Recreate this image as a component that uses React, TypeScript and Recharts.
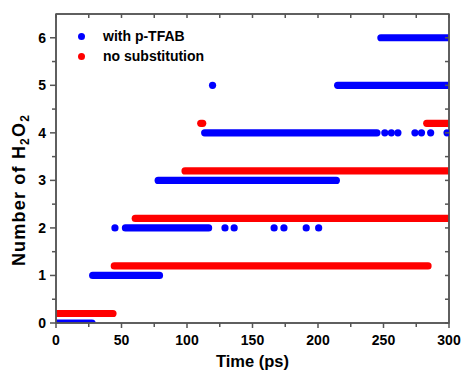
import React from 'react';
import { ComposedChart, Line, Scatter, XAxis, YAxis, Legend } from 'recharts';

// Time axis ticks (ps): labelled every 50, minor every 25
const timeTicks = [0, 25, 50, 75, 100, 125, 150, 175, 200, 225, 250, 275, 300];
// Count axis ticks: labelled every 1, minor every 0.5
const countTicks = [0, 0.5, 1, 1.5, 2, 2.5, 3, 3.5, 4, 4.5, 5, 5.5, 6];
const timeDomain = [0, 300];
const countDomain = [0, 6.5];

// "with p-TFAB": continuous plateaus (level n from time..to time)
const pTfabRuns = [
  { n: 0, from: 0, to: 27.5 },
  { n: 1, from: 28, to: 79 },
  { n: 2, from: 53, to: 116.5 },
  { n: 3, from: 78, to: 214 },
  { n: 4, from: 113.5, to: 245 },
  { n: 5, from: 215, to: 300 },
  { n: 6, from: 248, to: 300 },
];
// "with p-TFAB": isolated samples
const pTfabPoints = [
  { t: 45, n: 2 },
  { t: 129, n: 2 },
  { t: 136, n: 2 },
  { t: 166.5, n: 2 },
  { t: 174, n: 2 },
  { t: 191, n: 2 },
  { t: 200.5, n: 2 },
  { t: 119.5, n: 5 },
  { t: 251, n: 4 },
  { t: 256, n: 4 },
  { t: 261, n: 4 },
  { t: 274, n: 4 },
  { t: 279, n: 4 },
  { t: 286, n: 4 },
  { t: 298.5, n: 4 },
];

// "no substitution": plateaus (plotted with +0.2 offset)
const noSubRuns = [
  { n: 0.2, from: 0, to: 43.5 },
  { n: 1.2, from: 44.5, to: 284 },
  { n: 2.2, from: 60.5, to: 300 },
  { n: 3.2, from: 98.5, to: 300 },
  { n: 4.2, from: 110.5, to: 112 },
  { n: 4.2, from: 283, to: 300 },
];

const seriesNames = ['with p-TFAB', 'no substitution'];
const seriesColors = ['#0000ff', '#ff0000'];

const AXIS_GREY = '#555555';
const FONT = '"Liberation Sans", Arial, sans-serif';

const XTick = (props: any) => {
  const { x, y, payload } = props;
  const major = payload.value % 50 === 0;
  return (
    <g>
      <rect x={x - 0.75} y={323} width={1.5} height={major ? 5 : 4} fill={AXIS_GREY} />
      {major && (
        <text x={x} y={y + 10} textAnchor="middle" fontFamily={FONT} fontWeight="bold" fontSize={14} fill="#000">
          {payload.value}
        </text>
      )}
    </g>
  );
};

const YTick = (props: any) => {
  const { x, y, payload } = props;
  const major = payload.value % 1 === 0;
  return (
    <g>
      <rect x={56 - (major ? 6 : 4)} y={y - 0.75} width={major ? 6 : 4} height={1.5} fill={AXIS_GREY} />
      {major && (
        <text x={x - 1} y={y + 5} textAnchor="end" fontFamily={FONT} fontWeight="bold" fontSize={14} fill="#000">
          {payload.value}
        </text>
      )}
    </g>
  );
};

const TopTick = (props: any) => {
  const { x } = props;
  return <rect x={x - 0.75} y={14} width={1.5} height={4} fill={AXIS_GREY} />;
};

const RightTick = (props: any) => {
  const { y } = props;
  return <rect x={445} y={y - 0.75} width={4} height={1.5} fill={AXIS_GREY} />;
};

// Y title, plus the plot frame drawn from the label's viewBox (the plot area)
const YTitle = (props: any) => {
  const vb = props.viewBox || {};
  return (
    <g>
      <rect
        x={56}
        y={14}
        width={393}
        height={309}
        fill="none"
        stroke={AXIS_GREY}
        strokeWidth={1.5}
      />
      <text
        x={25}
        y={190}
        transform="rotate(-90 25 190)"
        textAnchor="middle"
        fontFamily={FONT}
        fontWeight="bold"
        fontSize={18}
        letterSpacing={1.2}
        fill="#000"
      >
        Number of H
        <tspan fontSize={12} dy={4}>2</tspan>
        <tspan dy={-4}>O</tspan>
        <tspan fontSize={12} dy={4}>2</tspan>
      </text>
    </g>
  );
};

const XTitle = () => (
  <text x={252.5} y={367} textAnchor="middle" fontFamily={FONT} fontWeight="bold" fontSize={16.5} fill="#000">
    Time (ps)
  </text>
);

const LegendBox = () => (
  <div style={{ fontFamily: FONT, fontWeight: 'bold', fontSize: 14, color: '#000', lineHeight: '19.5px' }}>
    {seriesNames.map((name, i) => (
      <div key={name} style={{ display: 'flex', alignItems: 'center', whiteSpace: 'nowrap' }}>
        <span
          style={{
            display: 'inline-block',
            width: 7,
            height: 7,
            borderRadius: '50%',
            background: seriesColors[i],
            marginRight: 18,
          }}
        />
        {name}
      </div>
    ))}
  </div>
);

const dotShape = (color: string) => (props: any) => (
  <circle cx={props.cx} cy={props.cy} r={3.6} fill={color} />
);

const axisLineStyle = { stroke: AXIS_GREY, strokeWidth: 1.5 };

export default function App() {
  return (
    <div style={{ position: 'absolute', left: 0, top: 0, background: '#fff' }}>
      <ComposedChart width={462} height={372} margin={{ top: 0, right: 0, bottom: 0, left: 0 }}>
        <XAxis
          xAxisId={0}
          dataKey="t"
          type="number"
          domain={timeDomain}
          ticks={timeTicks}
          allowDataOverflow
          height={49}
          axisLine={axisLineStyle}
          tickLine={false}
          tickSize={4}
          tickMargin={8}
          tick={<XTick />}
          interval={0}
          label={<XTitle />}
        />
        <XAxis
          xAxisId="top"
          dataKey="t"
          orientation="top"
          type="number"
          domain={timeDomain}
          ticks={timeTicks}
          allowDataOverflow
          height={14}
          axisLine={axisLineStyle}
          tickLine={false}
          tick={<TopTick />}
          interval={0}
        />
        <YAxis
          yAxisId={0}
          type="number"
          domain={countDomain}
          ticks={countTicks}
          allowDataOverflow
          width={56}
          axisLine={axisLineStyle}
          tickLine={false}
          tickSize={6}
          tickMargin={3}
          tick={<YTick />}
          interval={0}
          label={<YTitle />}
        />
        <YAxis
          yAxisId="right"
          orientation="right"
          type="number"
          domain={countDomain}
          ticks={countTicks}
          allowDataOverflow
          width={13}
          axisLine={axisLineStyle}
          tickLine={false}
          tick={<RightTick />}
          interval={0}
        />
        <Legend
          layout="horizontal"
          verticalAlign="middle"
          align="center"
          content={<LegendBox />}
          wrapperStyle={{ left: 78, top: 27, width: 'auto', height: 'auto' }}
        />
        {noSubRuns.map((r, i) => (
          <Line
            key={'r' + i}
            data={[{ t: r.from, n: r.n }, { t: r.to, n: r.n }]}
            dataKey="n"
            xAxisId={0}
            yAxisId={0}
            stroke={seriesColors[1]}
            strokeWidth={7.2}
            strokeLinecap="round"
            dot={false}
            activeDot={false}
            legendType="none"
            isAnimationActive={false}
          />
        ))}
        {pTfabRuns.map((r, i) => (
          <Line
            key={'b' + i}
            data={[{ t: r.from, n: r.n }, { t: r.to, n: r.n }]}
            dataKey="n"
            xAxisId={0}
            yAxisId={0}
            stroke={seriesColors[0]}
            strokeWidth={7.2}
            strokeLinecap="round"
            dot={false}
            activeDot={false}
            legendType="none"
            isAnimationActive={false}
          />
        ))}
        <Scatter
          data={pTfabPoints}
          dataKey="n"
          xAxisId="top"
          yAxisId="right"
          fill={seriesColors[0]}
          shape={dotShape(seriesColors[0])}
          legendType="none"
          isAnimationActive={false}
        />
      </ComposedChart>
    </div>
  );
}
